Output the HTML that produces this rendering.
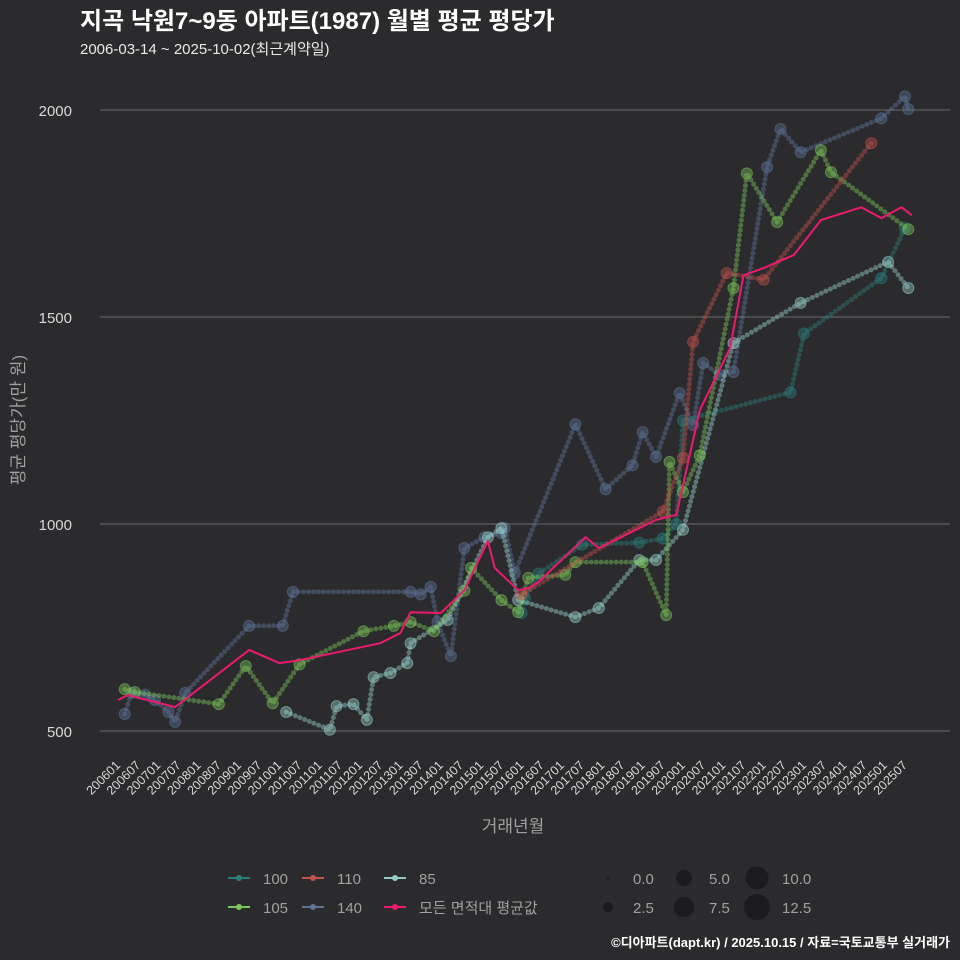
<!DOCTYPE html>
<html><head><meta charset="utf-8">
<style>
body{margin:0;background:#2b2b2d;}
svg{display:block;font-family:"Liberation Sans","Noto Sans CJK KR",sans-serif;}
</style></head>
<body>
<svg id="chart" width="960" height="960" xmlns="http://www.w3.org/2000/svg">
<rect x="0" y="0" width="960" height="960" fill="#2b2b2d"/>
<text x="80" y="29" fill="#ffffff" font-size="24" font-weight="bold">지곡 낙원7~9동 아파트(1987) 월별 평균 평당가</text>
<text x="80" y="54" fill="#e8e8e8" font-size="15">2006-03-14 ~ 2025-10-02(최근계약일)</text>
<g id="grid"></g>
<g id="series"></g>
<g id="xaxis"></g>
<text x="513" y="832" fill="#a0a0a0" font-size="17" text-anchor="middle">거래년월</text>
<text transform="translate(24,420) rotate(-90)" fill="#a0a0a0" font-size="17" text-anchor="middle">평균 평당가(만 원)</text>
<g id="legend"></g>
<text x="950" y="947" fill="#ffffff" font-size="13" font-weight="bold" text-anchor="end">©디아파트(dapt.kr) / 2025.10.15 / 자료=국토교통부 실거래가</text>
</svg>
<script>
const yTicks = [500, 1000, 1500, 2000];
const xTickLabels = ["200601","200607","200701","200707","200801","200807","200901","200907","201001","201007","201101","201107","201201","201207","201301","201307","201401","201407","201501","201507","201601","201607","201701","201707","201801","201807","201901","201907","202001","202007","202101","202107","202201","202207","202301","202307","202401","202407","202501","202507"];

const months140 = ["200603","200605","200609","200612","200704","200706","200709","200904","201002","201005","201304","201307","201310","201312","201404","201408","201502","201507","201508","201511","201705","201802","201810","201901","201905","201912","202004","202007","202012","202104","202202","202206","202212","202412","202507","202508"];
const values140 = [541,592,588,575,546,522,592,754,754,836,836,830,848,763,681,942,968,978,990,882,1241,1084,1142,1222,1162,1316,1239,1389,1360,1367,1862,1954,1898,1980,2033,2002];

const months105 = ["200603","200606","200807","200903","200911","201007","201202","201211","201304","201311","201408","201410","201507","201512","201603","201702","201705","201901","201908","201909","202001","202006","202104","202108","202205","202306","202309","202508"];
const values105 = [601,594,565,657,567,661,741,754,763,741,839,894,816,787,870,877,908,908,780,1150,1077,1166,1570,1847,1729,1903,1850,1712];

const months100 = ["201601","201602","201606","201707","201812","201907","201911","202001","202209","202301","202412","202507"];
const values100 = [785,820,880,950,955,965,1000,1250,1318,1460,1594,1715];

const months110 = ["201601","201907","202001","202004","202102","202201","202409"];
const values110 = [830,1030,1160,1440,1606,1590,1920];

const months85 = ["201003","201104","201106","201111","201203","201205","201210","201303","201304","201403","201503","201507","201512","201705","201712","201812","201905","202001","202104","202212","202502","202508"];
const values85 = [546,503,560,565,527,630,640,664,712,768,968,990,816,775,797,913,913,986,1437,1534,1633,1570];

const monthsAvg = ["200601","200604","200607","200706","200904","201001","201007","201207","201301","201304","201401","201408","201503","201505","201512","201603","201606","201708","201712","201905","201911","202006","202103","202107","202201","202210","202306","202406","202412","202506","202509"];
const valuesAvg = [575,587,580,558,696,664,671,712,737,787,785,840,959,894,840,845,860,968,942,1010,1022,1275,1425,1601,1618,1650,1734,1765,1739,1765,1746];

const NS="http://www.w3.org/2000/svg";
function X(idx){return 118 + idx*3.363;}
function mIdx(s){return (parseInt(s.slice(0,4))-2006)*12 + parseInt(s.slice(4))-1;}
function Y(v){return 731 - (v-500)*207/500;}
function mk(tag,attrs,parent){const e=document.createElementNS(NS,tag);for(const k in attrs)e.setAttribute(k,attrs[k]);parent.appendChild(e);return e;}

const grid=document.getElementById('grid');
yTicks.forEach(t=>{
  const l=mk('line',{x1:100,x2:950,y1:Y(t),y2:Y(t),stroke:'#6a6a6a','stroke-width':1},grid);
  
  
  const tx=mk('text',{x:72,y:Y(t)+6,fill:'#d8d8d8','font-size':15,'text-anchor':'end'},grid);
  tx.textContent=t;
  
  
});
const xa=document.getElementById('xaxis');
xTickLabels.forEach(lab=>{
  const x=X(mIdx(lab))+3;
  const tx=mk('text',{x:x,y:766,fill:'#d8d8d8','font-size':12.5,'text-anchor':'end',transform:`rotate(-45 ${x} 766)`},xa);
  tx.textContent=lab;
  
  
});

const ser=document.getElementById('series');
function drawSeries(name,months,values,color){
  const g=mk('g',{},ser);
  
  
  const pts=months.map((m,i)=>X(mIdx(m)).toFixed(1)+','+Y(values[i]).toFixed(1)).join(' ');
  const pl=mk('polyline',{points:pts,fill:'none',stroke:color,'stroke-width':5,'stroke-linecap':'round','stroke-dasharray':'0 5','stroke-opacity':0.45},g);
  
  
  months.forEach((m,i)=>{
    const c=mk('circle',{cx:X(mIdx(m)),cy:Y(values[i]),r:5.5,fill:color,'fill-opacity':0.4,stroke:color,'stroke-opacity':0.5},g);
    
    
  });
}
drawSeries('140',months140,values140,'#60769c');
drawSeries('100',months100,values100,'#2a7f7c');
drawSeries('85',months85,values85,'#9ad4ce');
drawSeries('105',months105,values105,'#7cc85a');
drawSeries('110',months110,values110,'#c4524e');
const avgPts=monthsAvg.map((m,i)=>X(mIdx(m)).toFixed(1)+','+Y(valuesAvg[i]).toFixed(1)).join(' ');
const avg=mk('polyline',{points:avgPts,fill:'none',stroke:'#ec1a6e','stroke-width':2,'stroke-linejoin':'round'},ser);



const lg=document.getElementById('legend');
const items=[["100","#2a7f7c",228,878],["110","#c4524e",302,878],["85","#93ccc6",384,878],["105","#7cc85a",228,907],["140","#5f7396",302,907],["모든 면적대 평균값","#ec1a6e",384,907]];
items.forEach(it=>{
  const g=mk('g',{},lg);
  
  
  mk('line',{x1:it[2],x2:it[2]+22,y1:it[3],y2:it[3],stroke:it[1],'stroke-width':2},g);
  mk('circle',{cx:it[2]+11,cy:it[3],r:3,fill:it[1]},g);
  const t=mk('text',{x:it[2]+35,y:it[3]+6,fill:'#a0a0a0','font-size':15},g);
  t.textContent=it[0];
});
const sizes=[["0.0",1.5,608,878],["2.5",5,608,907],["5.0",8,684,878],["7.5",10,684,907],["10.0",11.5,757,878],["12.5",13,757,907]];
sizes.forEach(s=>{
  const g=mk('g',{},lg);
  
  
  mk('circle',{cx:s[2],cy:s[3],r:s[1],fill:'#1c1c1e'},g);
  const t=mk('text',{x:s[2]+25,y:s[3]+6,fill:'#a0a0a0','font-size':15},g);
  t.textContent=s[0];
});
</script>
</body></html>
